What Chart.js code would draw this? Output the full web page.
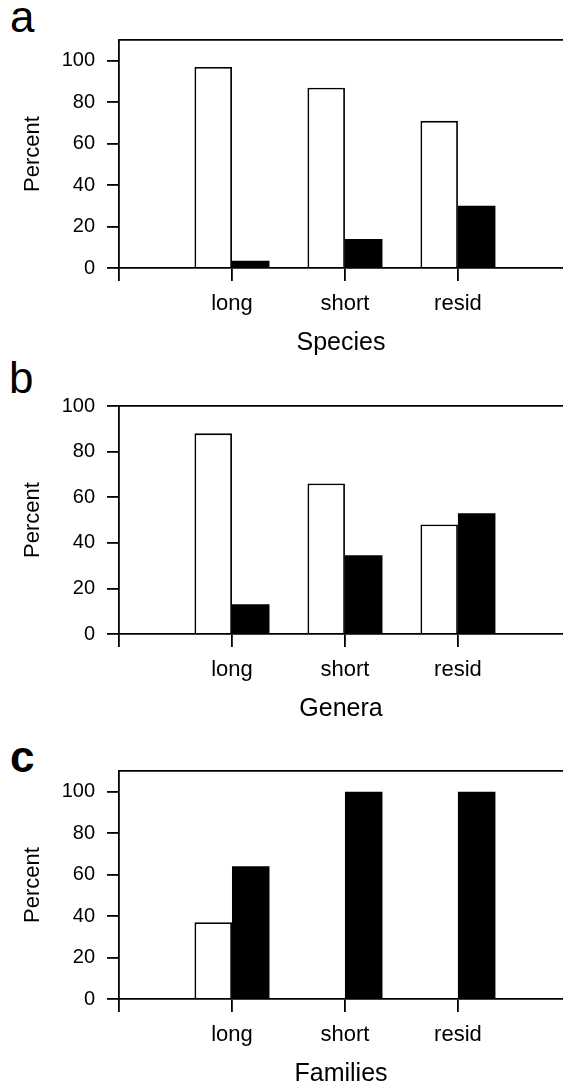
<!DOCTYPE html>
<html>
<head>
<meta charset="utf-8">
<script src="https://cdn.jsdelivr.net/npm/chart.js@4"></script>
<style>
  html, body { margin: 0; padding: 0; background: #fff; overflow: hidden; }
  body { width: 563px; height: 1085px; position: relative; font-family: "Liberation Sans", Arial, sans-serif; }
  .panel { position: absolute; left: 0; width: 563px; height: 358px; }
  .letter { position: absolute; left: 10px; font-size: 44px; line-height: 44px; color: #000; }
</style>
</head>
<body>
  <div class="letter" style="top:-5px;">a</div>
  <div class="letter" style="top:356px; left:9px;">b</div>
  <div class="letter" style="top:735px; font-weight:bold;">c</div>

  <div class="panel" style="top:0px;"><canvas id="chart-a" width="563" height="358"></canvas></div>
  <div class="panel" style="top:366px;"><canvas id="chart-b" width="563" height="358"></canvas></div>
  <div class="panel" style="top:731px;"><canvas id="chart-c" width="563" height="358"></canvas></div>

<script>
'use strict';

const categories = ['long', 'short', 'resid'];

// white = open bars, black = filled bars
const speciesWhite = [97, 87, 71];
const speciesBlack = [3.5, 14, 30];
const generaWhite = [88, 66, 48];
const generaBlack = [13, 34.5, 53];
const familiesWhite = [37, 0, 0];
const familiesBlack = [64, 100, 100];

const yTickStep = 20;
const X_MAX = 3.93; // plot is cut at the right edge
const FONT = '"Liberation Sans", Arial, sans-serif';
const INK = '#000';
const LINE = 1.8;

function toPoints(values) {
  return values.map((v, i) => ({ x: i + 1, y: v }));
}

function buildChart(id, white, black, yMax, xTitle) {
  const canvas = document.getElementById(id);
  return new Chart(canvas, {
    type: 'bar',
    data: {
      datasets: [
        {
          data: toPoints(white),
          backgroundColor: '#fff',
          borderColor: INK,
          borderWidth: LINE,
          categoryPercentage: 0.664,
          barPercentage: 1,
        },
        {
          data: toPoints(black),
          backgroundColor: INK,
          borderColor: INK,
          borderWidth: 0,
          categoryPercentage: 0.664,
          barPercentage: 1,
        },
      ],
    },
    options: {
      responsive: false,
      animation: false,
      devicePixelRatio: 1,
      layout: { padding: { top: 40, left: 0, right: 0, bottom: 0 } },
      plugins: { legend: { display: false }, tooltip: { enabled: false } },
      scales: {
        x: {
          type: 'linear',
          position: 'bottom',
          offset: false,
          min: 0,
          max: X_MAX,
          afterBuildTicks: (s) => { s.ticks = s.ticks.filter(t => Number.isInteger(t.value)); },
          afterFit: (s) => { s.height = 90; },
          ticks: {
            stepSize: 1,
            includeBounds: false,
            autoSkip: false,
            maxRotation: 0,
            padding: 10,
            color: INK,
            font: { family: FONT, size: 22 },
            callback: (v) => categories[v - 1] || '',
          },
          grid: { offset: false, drawOnChartArea: false, drawTicks: true, tickLength: 13, color: INK, lineWidth: LINE },
          border: { display: true, color: INK, width: LINE },
          title: { display: true, text: xTitle, color: INK, font: { family: FONT, size: 25 }, padding: 0 },
        },
        top: {
          type: 'linear',
          position: 'top',
          offset: false,
          min: 0,
          max: X_MAX,
          afterFit: (s) => { s.height = 0; },
          ticks: { display: false },
          grid: { display: false, drawTicks: false },
          border: { display: true, color: INK, width: LINE },
        },
        y: {
          min: 0,
          max: yMax,
          afterBuildTicks: (s) => { s.ticks = s.ticks.filter(t => t.value % yTickStep === 0); },
          afterFit: (s) => { s.width = 119; },
          ticks: {
            stepSize: yTickStep,
            includeBounds: false,
            padding: 12,
            color: INK,
            font: { family: FONT, size: 20 },
          },
          grid: { drawOnChartArea: false, drawTicks: true, tickLength: 12, color: INK, lineWidth: LINE },
          border: { display: true, color: INK, width: LINE },
          title: { display: true, text: 'Percent', color: INK, font: { family: FONT, size: 22 }, padding: { top: 20, bottom: 0 } },
        },
      },
    },
  });
}

buildChart('chart-a', speciesWhite, speciesBlack, 110, 'Species');
buildChart('chart-b', generaWhite, generaBlack, 100, 'Genera');
buildChart('chart-c', familiesWhite, familiesBlack, 110, 'Families');
</script>
</body>
</html>
